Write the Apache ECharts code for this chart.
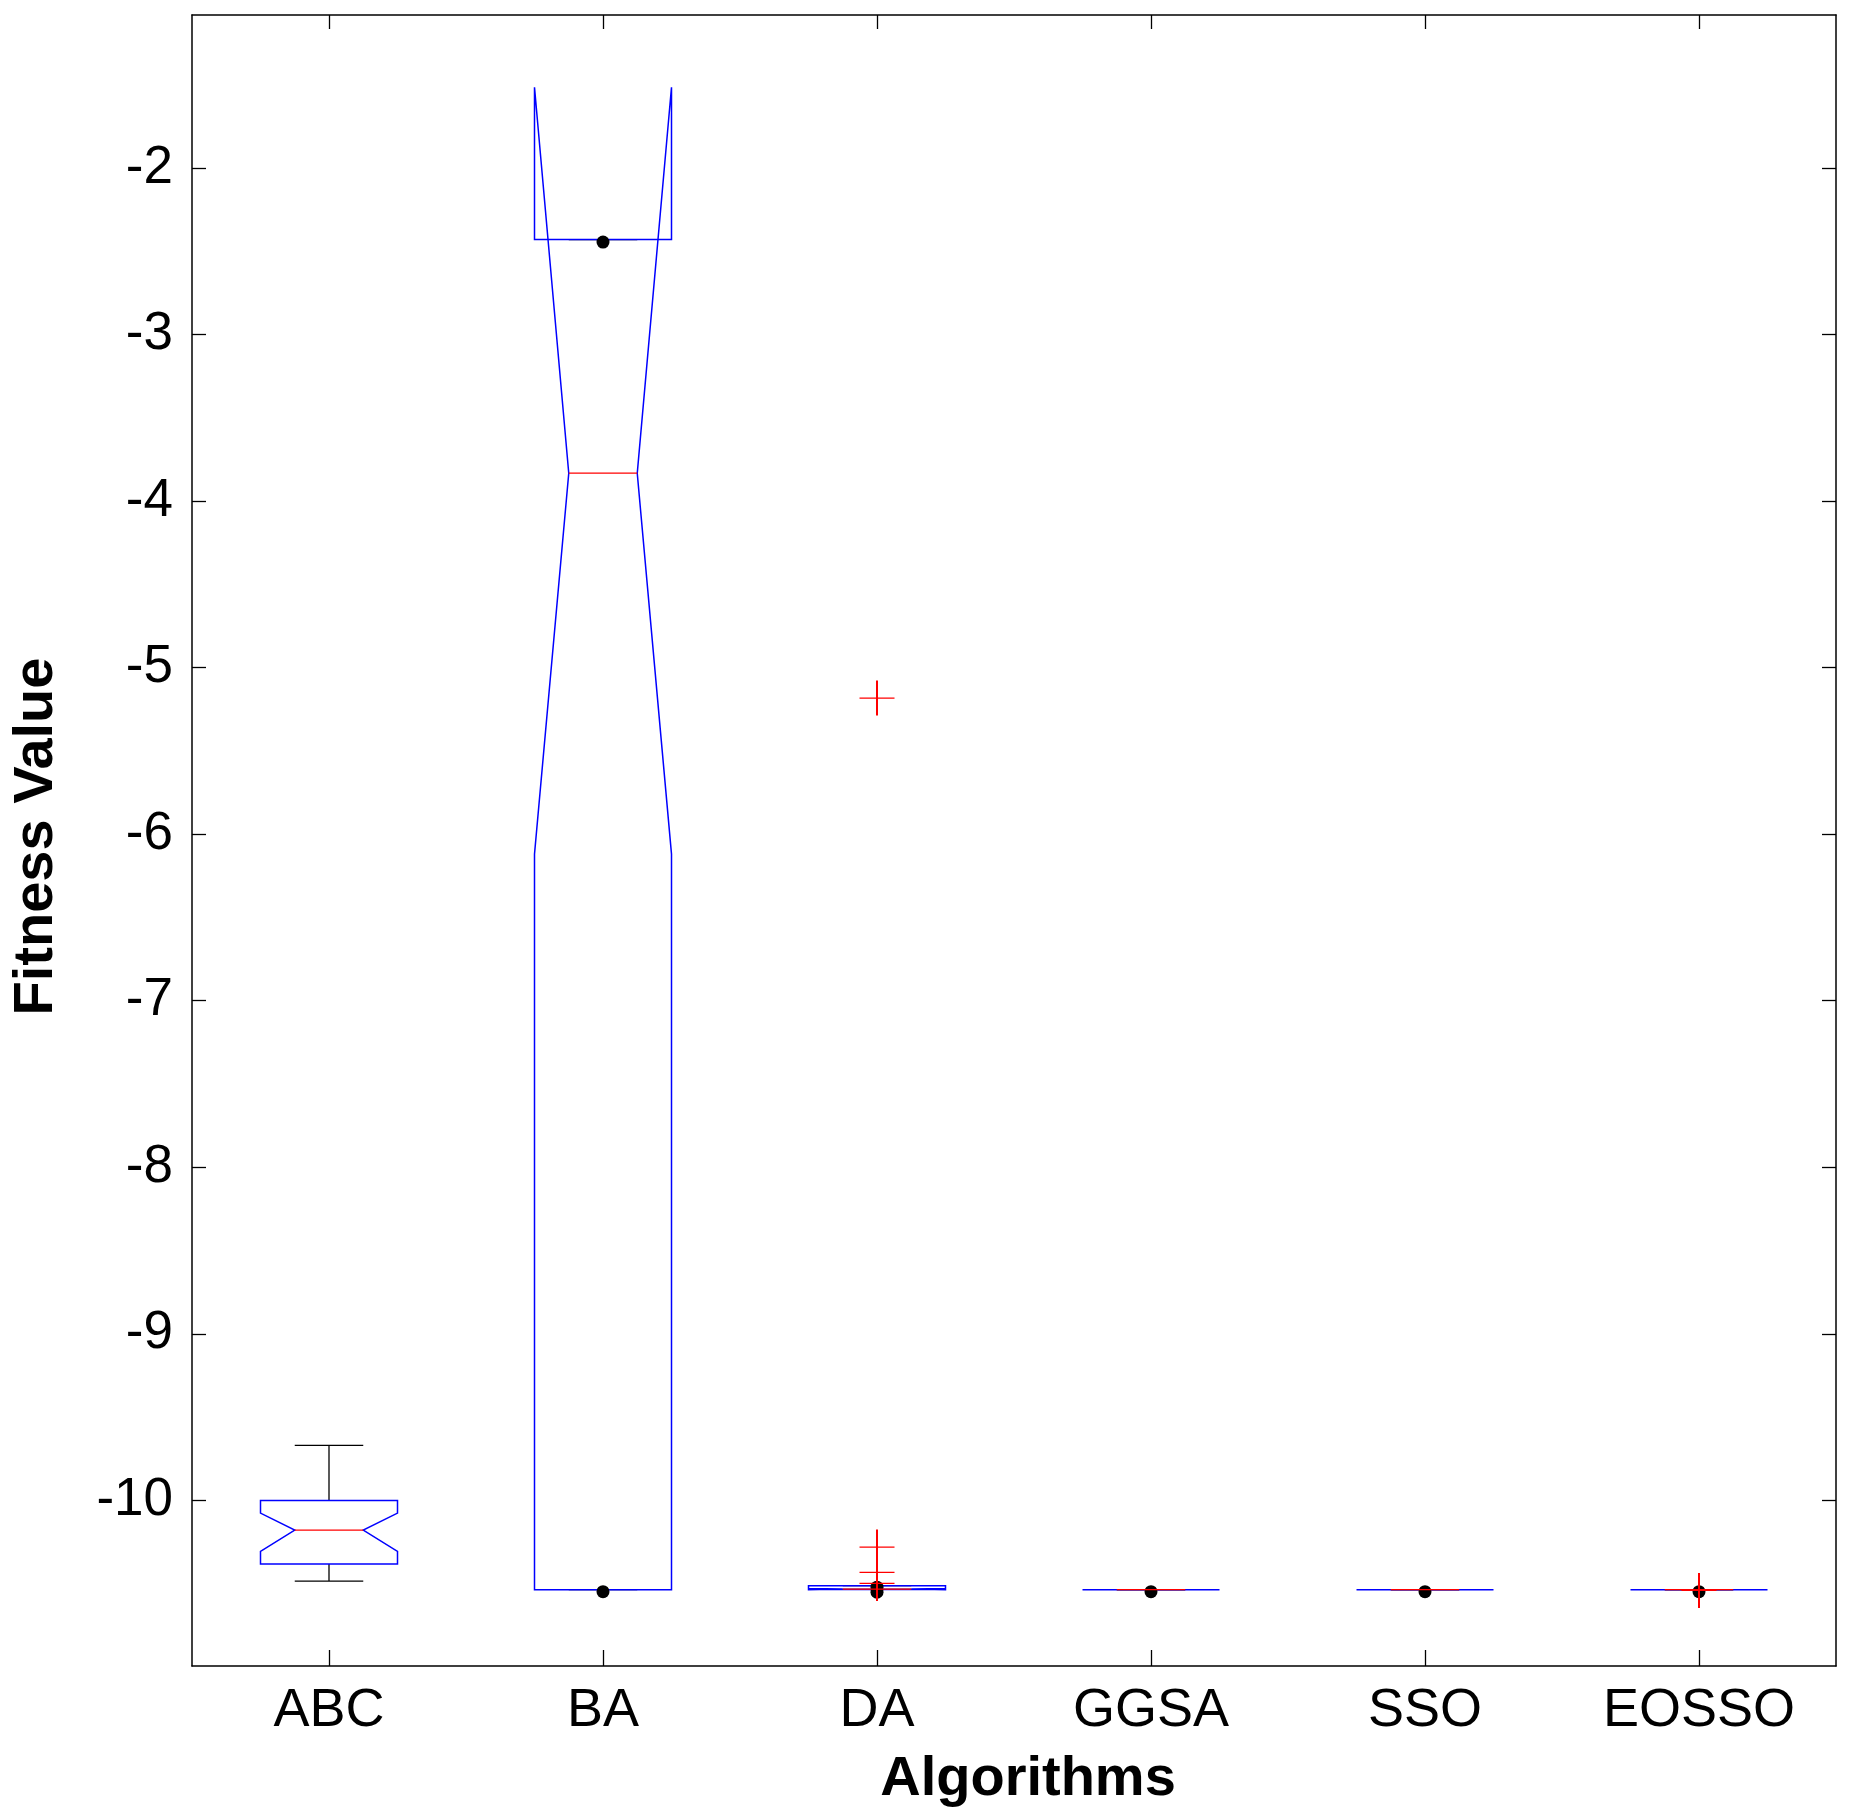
<!DOCTYPE html>
<html>
<head>
<meta charset="utf-8">
<script src="https://cdn.jsdelivr.net/npm/echarts@6/dist/echarts.min.js"></script>
<style>
html,body{margin:0;padding:0;background:#fff;overflow:hidden;}
#c{width:1856px;height:1819px;}
</style>
</head>
<body>
<div id="c"></div>
<script>
// ---- data ----
const categories = ['ABC', 'BA', 'DA', 'GGSA', 'SSO', 'EOSSO'];
const q1Values      = [-10.382, -10.536, -10.534, -10.536, -10.536, -10.536];
const q3Values      = [-10.000, -2.430, -10.512, -10.536, -10.536, -10.536];
const medianValues  = [-10.178, -3.833, -10.532, -10.536, -10.536, -10.536];
const notchLow      = [-10.306, -6.120, -10.536, -10.536, -10.536, -10.536];
const notchHigh     = [-10.076, -1.516, -10.528, -10.536, -10.536, -10.536];
const whiskerLow    = [-10.484, -10.536, -10.534, -10.536, -10.536, -10.536];
const whiskerHigh   = [-9.670, -2.430, -10.512, -10.536, -10.536, -10.536];
// outliers: [category index, value]
const outliers = [[2, -5.183], [2, -10.280], [2, -10.432], [2, -10.498], [5, -10.540]];
// black dot markers: [category index, value]
const dots = [[1, -2.445], [1, -10.548], [2, -10.521], [2, -10.551], [3, -10.548], [4, -10.548], [5, -10.548]];
const yTicks = [-10, -9, -8, -7, -6, -5, -4, -3, -2];
const yMin = -10.994, yMax = -1.082;

const boxData = categories.map((c, i) => [i, q1Values[i], q3Values[i], medianValues[i], notchLow[i], notchHigh[i], whiskerLow[i], whiskerHigh[i]]);

const FONT = '"Liberation Sans", Arial, Helvetica, sans-serif';
const chart = echarts.init(document.getElementById('c'), null, {renderer: 'canvas'});

function boxRender(params, api) {
  const i = api.value(0);
  const band = api.size([1, 0])[0];
  const w = band * 0.25;
  const x = api.coord([i, 0])[0];
  const y = v => api.coord([i, v])[1];
  const q1 = y(api.value(1)), q3 = y(api.value(2)), md = y(api.value(3));
  const nl = y(api.value(4)), nh = y(api.value(5));
  const wl = y(api.value(6)), wh = y(api.value(7));
  const blk = {stroke: '#000', lineWidth: 1.3};
  const children = [
    {type: 'line', shape: {x1: x, y1: q3, x2: x, y2: wh}, style: blk},
    {type: 'line', shape: {x1: x, y1: q1, x2: x, y2: wl}, style: blk},
    {type: 'line', shape: {x1: x - w / 2, y1: wh, x2: x + w / 2, y2: wh}, style: blk},
    {type: 'line', shape: {x1: x - w / 2, y1: wl, x2: x + w / 2, y2: wl}, style: blk},
    {type: 'polygon', shape: {points: [
      [x - w, q1], [x - w, nl], [x - w / 2, md], [x - w, nh], [x - w, q3],
      [x + w, q3], [x + w, nh], [x + w / 2, md], [x + w, nl], [x + w, q1]
    ]}, style: {fill: 'none', stroke: '#0000ff', lineWidth: 1.5}}
  ];
  return {type: 'group', children: children};
}

function medianRender(params, api) {
  const i = api.value(0);
  const band = api.size([1, 0])[0];
  const w = band * 0.125;
  const p = api.coord([i, api.value(1)]);
  return {type: 'line', shape: {x1: p[0] - w, y1: p[1], x2: p[0] + w, y2: p[1]}, style: {stroke: '#ff0000', lineWidth: 1.3}};
}

function plusRender(params, api) {
  const p = api.coord([api.value(0), api.value(1)]);
  const h = 17.5;
  return {type: 'group', children: [
    {type: 'line', shape: {x1: p[0] - h, y1: p[1], x2: p[0] + h, y2: p[1]}, style: {stroke: '#ff0000', lineWidth: 1.3}},
    {type: 'line', shape: {x1: p[0], y1: p[1] - h, x2: p[0], y2: p[1] + h}, style: {stroke: '#ff0000', lineWidth: 2}}
  ]};
}

const axisLineStyle = {show: true, onZero: false, lineStyle: {color: '#000', width: 1.5}};

chart.setOption({
  backgroundColor: '#ffffff',
  animation: false,
  grid: {left: 192, right: 20, top: 15, bottom: 153, containLabel: false, outerBoundsMode: 'none'},
  xAxis: [
    {
      type: 'category', data: categories, position: 'bottom',
      axisLine: axisLineStyle,
      axisTick: {show: true, inside: true, length: 16, alignWithLabel: true, lineStyle: {color: '#000', width: 1.3}},
      axisLabel: {show: true, color: '#000', fontFamily: FONT, fontSize: 54, margin: 18, interval: 0},
      splitLine: {show: false},
      name: 'Algorithms', nameLocation: 'middle', nameGap: 86,
      nameTextStyle: {color: '#000', fontFamily: FONT, fontSize: 56, fontWeight: 'bold', padding: [0, 0, 0, 28]}
    },
    {
      type: 'category', data: categories, position: 'top',
      axisLine: axisLineStyle,
      axisTick: {show: true, inside: true, length: 14, alignWithLabel: true, lineStyle: {color: '#000', width: 1.3}},
      axisLabel: {show: false}, splitLine: {show: false}
    }
  ],
  yAxis: [
    {
      type: 'value', min: yMin, max: yMax, position: 'left',
      axisLine: axisLineStyle,
      axisTick: {show: true, inside: true, length: 14, customValues: yTicks, lineStyle: {color: '#000', width: 1.3}},
      axisLabel: {show: true, customValues: yTicks, color: '#000', fontFamily: FONT, fontSize: 53, margin: 19,
                  formatter: v => String(Math.round(v))},
      splitLine: {show: false},
      name: 'Fitness Value', nameLocation: 'middle', nameGap: 127, nameRotate: 90,
      nameTextStyle: {color: '#000', fontFamily: FONT, fontSize: 56, fontWeight: 'bold', padding: [0, 0, 0, 8]}
    },
    {
      type: 'value', min: yMin, max: yMax, position: 'right',
      axisLine: axisLineStyle,
      axisTick: {show: true, inside: true, length: 14, customValues: yTicks, lineStyle: {color: '#000', width: 1.3}},
      axisLabel: {show: false}, splitLine: {show: false}
    }
  ],
  series: [
    {type: 'custom', name: 'boxes', renderItem: boxRender, data: boxData, z: 2,
     encode: {x: 0, y: [1, 2, 3, 4, 5, 6, 7]}, clip: true},
    {type: 'scatter', name: 'points', data: dots, symbol: 'circle', symbolSize: 13, z: 3,
     itemStyle: {color: '#000', opacity: 1}},
    {type: 'custom', name: 'medians', renderItem: medianRender, z: 4,
     data: categories.map((c, i) => [i, medianValues[i]]), encode: {x: 0, y: 1}},
    {type: 'custom', name: 'outliers', renderItem: plusRender, z: 5,
     data: outliers, encode: {x: 0, y: 1}}
  ]
});
</script>
</body>
</html>
